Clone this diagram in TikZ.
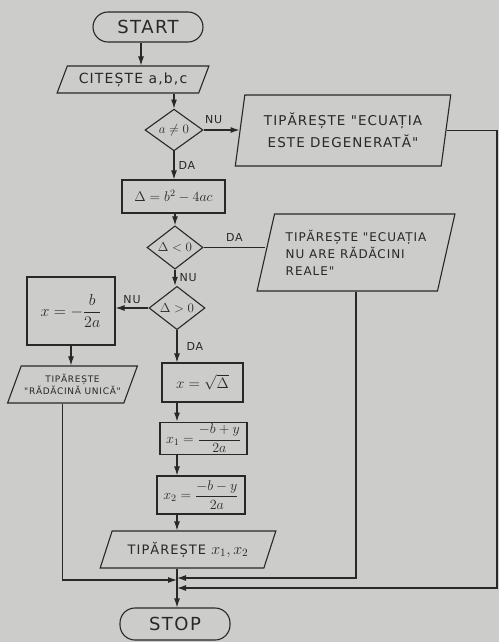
\RequirePackage{fix-cm}
\documentclass[tikz,border=0pt]{standalone}
\usepackage{amsmath}
\usepackage{amssymb}
\usepackage{fontspec}
\setmainfont{DejaVu Sans}
\newfontfamily\handfont[LetterSpace=8]{DejaVu Sans}
\usepackage{xcolor}
\usetikzlibrary{shapes, arrows.meta}

\definecolor{paper}{RGB}{204,204,202}
\definecolor{pencil}{RGB}{40,40,40}

\tikzset{
    pen/.style={draw=pencil, line width=1.1pt, text=pencil},
    termbox/.style={pen, rectangle, rounded corners=15pt, minimum width=110pt, minimum height=30pt, font=\handfont\fontsize{18}{20}\selectfont},
    procbox/.style={pen, rectangle, inner sep=2pt, font=\fontsize{14}{16}\selectfont},
    iobox/.style={pen, trapezium, trapezium stretches=true, inner sep=3pt, align=center, font=\handfont\fontsize{12}{17}\selectfont},
    testbox/.style={pen, diamond, inner sep=0pt, font=\fontsize{13}{15}\selectfont},
    flow/.style={pen, -{Latex[length=9pt, width=6pt]}},
    tag/.style={font=\handfont\fontsize{11}{13}\selectfont, inner sep=1pt, text=pencil},
}

\begin{document}
\begin{tikzpicture}[x=1pt, y=-1pt]
            \fill[paper] (0,0) rectangle (499,642);
            \useasboundingbox (0,0) rectangle (499,642);

            \node[termbox] (start) at (148,27) {START};
            \node[iobox, trapezium left angle=66, trapezium right angle=114, minimum width=152pt, minimum height=27pt, font=\handfont\fontsize{14}{16}\selectfont] (read) at (133,79.5) {CITEȘTE a,b,c};
            \node[testbox, minimum width=58pt, minimum height=39pt] (anz) at (174,130) {$a\neq0$};
            \node[iobox, trapezium left angle=79, trapezium right angle=101, minimum width=216pt, minimum height=71pt, font=\handfont\fontsize{13.5}{22}\selectfont] (degen) at (343,130.5) {TIPĂREȘTE "ECUAȚIA\\ESTE DEGENERATĂ"};
            \node[procbox, minimum width=103pt, minimum height=33pt] (disc) at (173.5,196.5) {$\Delta=b^2-4ac$};
            \node[testbox, minimum width=56pt, minimum height=33pt] (neg) at (175,247.5) {$\Delta<0$};
            \node[iobox, trapezium left angle=73, trapezium right angle=107, minimum width=198pt, minimum height=77pt, align=left] (noreal) at (356,252.5) {TIPĂREȘTE "ECUAȚIA\\NU ARE RĂDĂCINI\\REALE"};
            \node[testbox, minimum width=56pt, minimum height=34pt] (pos) at (177,308) {$\Delta>0$};
            \node[procbox, minimum width=88pt, minimum height=68pt, font=\fontsize{16}{18}\selectfont] (single) at (71,311) {$x=-\dfrac{b}{2a}$};
            \node[iobox, trapezium left angle=63, trapezium right angle=117, minimum width=129pt, minimum height=37pt, font=\handfont\fontsize{9}{12}\selectfont] (unique) at (72.5,384.5) {TIPĂREȘTE\\"RĂDĂCINĂ UNICĂ"};
            \node[procbox, minimum width=81pt, minimum height=39pt, font=\fontsize{15}{17}\selectfont] (root) at (202.5,382.5) {$x=\sqrt{\Delta}$};
            \node[procbox, minimum width=87pt, minimum height=31pt] (xone) at (203.5,438.5) {$x_1=\dfrac{-b+y}{2a}$};
            \node[procbox, minimum width=88pt, minimum height=38pt] (xtwo) at (201,495) {$x_2=\dfrac{-b-y}{2a}$};
            \node[iobox, trapezium left angle=65, trapezium right angle=115, minimum width=176pt, minimum height=37pt, font=\handfont\fontsize{13}{15}\selectfont] (both) at (188,549.5) {TIPĂREȘTE {\fontsize{16}{16}\selectfont$x_1,x_2$}};
            \node[termbox, minimum height=32pt] (stop) at (175,624) {STOP};

            \coordinate (entry) at (141,0);
            \coordinate (spine) at (177,0);
            \coordinate (edge) at (497,0);
            \coordinate (mleft) at (177,580);
            \coordinate (mright) at (177,578);
            \coordinate (mouter) at (177,588);

            \draw[flow] (start.south -| entry) -- (read.north -| entry);
            \draw[flow] (read.south -| anz) -- (anz.north);
            \draw[flow] (anz.east) -- (anz.east -| degen.west) node[tag, pos=0.28, above=5pt] {NU};
            \draw[flow] (anz.south) -- (anz.south |- disc.north) node[tag, midway, right=3pt] {DA};
            \draw[flow] (disc.south -| neg) -- (neg.north);
            \draw[pen] (neg.east) -- (neg.east -| noreal.west) node[tag, midway, above=4pt] {DA};
            \draw[flow] (neg.south) -- (neg.south |- pos.north) node[tag, midway, right=3pt] {NU};
            \draw[flow] (pos.west) -- (pos.west -| single.east) node[tag, midway, above=3pt] {NU};
            \draw[flow] (pos.south) -- (pos.south |- root.north) node[tag, midway, right=8pt] {DA};
            \draw[flow] (root.south -| spine) -- (xone.north -| spine);
            \draw[flow] (xone.south -| spine) -- (xtwo.north -| spine);
            \draw[flow] (xtwo.south -| spine) -- (both.north -| spine);
            \draw[flow] (both.south -| spine) -- (stop.north -| spine);
            \draw[flow] (single.south) -- (single.south |- unique.north);
            \draw[flow] ([xshift=-10pt]unique.south) |- (mleft);
            \draw[flow] (noreal.south) |- (mright);
            \draw[flow] (degen.east) -- (degen.east -| edge) |- (mouter);
\end{tikzpicture}
\end{document}
